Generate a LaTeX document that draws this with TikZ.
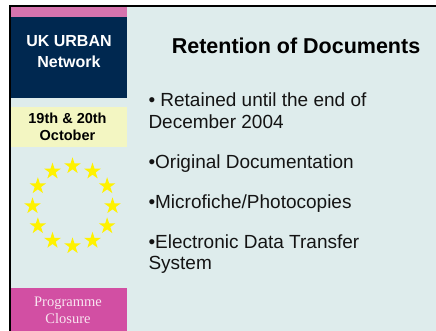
\documentclass[tikz,border=0pt]{standalone}
\usepackage{fontspec}
\setmainfont{Liberation Sans}
\newfontfamily\closurefont{Liberation Serif}
\usetikzlibrary{shapes.geometric}
\definecolor{slidebg}{HTML}{DEECEC}
\definecolor{navy}{HTML}{002850}
\definecolor{toppink}{HTML}{D673AE}
\definecolor{lowpink}{HTML}{D24FA3}
\definecolor{paleyellow}{HTML}{F3F6C2}
\definecolor{palepink}{HTML}{F8E4F0}
\begin{document}
\begin{tikzpicture}[x=1pt, y=-1pt,
  every node/.style={inner sep=0pt, outer sep=0pt},
  panel/.style={rectangle, draw=none, anchor=north west},
  bullet/.style={anchor=north west, align=left, text=black!92,
    font={\fontsize{19}{21.5}\selectfont}},
  eustar/.style={star, star points=5, star point ratio=2.618,
    minimum size=17.5pt, fill=yellow, draw=none}]
\useasboundingbox (0,0) rectangle (436,331);
\fill[white] (0,0) rectangle (436,331);
\fill[slidebg] (11,7) rectangle (436,331);
\draw[line width=2pt, line join=miter] (10,331) -- (10,6) -- (436,6);
\node[panel, fill=toppink, minimum width=115.5pt, minimum height=10pt] (topstrip) at (11,7) {};
\node[panel, fill=navy, minimum width=115.5pt, minimum height=81pt] (navybox) at (11,17) {};
\node[panel, fill=paleyellow, minimum width=116pt, minimum height=40pt] (datebox) at (11,107) {};
\node[panel, fill=lowpink, minimum width=116pt, minimum height=43pt] (closebox) at (11,288) {};
\node[anchor=north, align=center, text=white, font={\bfseries\fontsize{16}{21}\selectfont}] (network) at (69,35) {UK URBAN\\Network};
\node[anchor=north, align=center, font={\bfseries\fontsize{14.5}{17}\selectfont}] (dates) at (67.5,112.5) {19th \& 20th\\October};
\node[anchor=north, align=center, text=palepink, font={\closurefont\fontsize{14.5}{17}\selectfont}] (closure) at (68,297) {Programme\\Closure};
\foreach \a [count=\i] in {90,120,...,420}
  \node[eustar] (star\i) at ({72.5+40*cos(\a)},{206+40*sin(\a)}) {};
\node[anchor=base, font={\bfseries\fontsize{21.5}{26}\selectfont}] (title) at (296,54) {Retention of Documents};
\node[bullet] (retained) at (148.5,93.2) {• Retained until the end of\\December 2004};
\node[bullet] (original) at (148.5,154.7) {•Original Documentation};
\node[bullet] (microfiche) at (148.5,194.7) {•Microfiche/Photocopies};
\node[bullet] (transfer) at (148.5,234.7) {•Electronic Data Transfer\\System};
\end{tikzpicture}
\end{document}
